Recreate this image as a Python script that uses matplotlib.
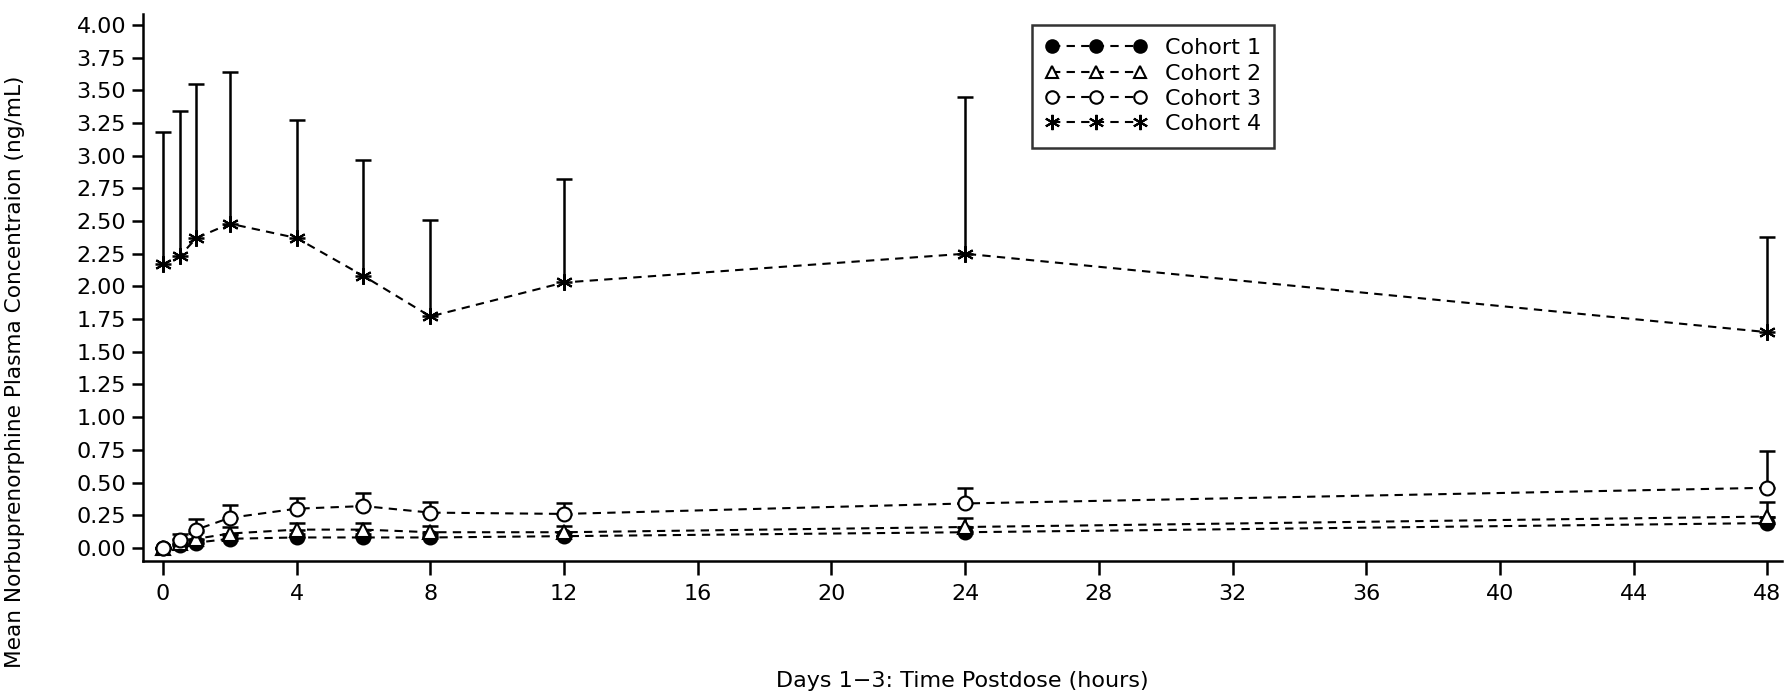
import matplotlib
matplotlib.use("Agg")
from matplotlib import pyplot as plt
from matplotlib.lines import Line2D

# sampling times (hours)
hours = [0, 0.5, 1, 2, 4, 6, 8, 12, 24, 48]

# mean concentrations (ng/mL) per cohort
cohort1 = [0.00, 0.02, 0.04, 0.07, 0.08, 0.08, 0.08, 0.09, 0.12, 0.19]
cohort2 = [0.00, 0.04, 0.07, 0.11, 0.14, 0.14, 0.12, 0.12, 0.16, 0.24]
cohort3 = [0.00, 0.06, 0.14, 0.23, 0.30, 0.32, 0.27, 0.26, 0.34, 0.46]
cohort4 = [2.17, 2.23, 2.37, 2.48, 2.37, 2.08, 1.77, 2.03, 2.25, 1.65]

# upper SD bars
sd1 = [0.00, 0.01, 0.02, 0.03, 0.03, 0.03, 0.03, 0.03, 0.04, 0.05]
sd2 = [0.00, 0.03, 0.05, 0.05, 0.05, 0.05, 0.05, 0.05, 0.07, 0.11]
sd3 = [0.00, 0.05, 0.08, 0.10, 0.08, 0.10, 0.08, 0.08, 0.12, 0.28]
sd4 = [1.01, 1.11, 1.18, 1.16, 0.90, 0.89, 0.74, 0.79, 1.20, 0.73]

labels = ["Cohort 1", "Cohort 2", "Cohort 3", "Cohort 4"]
xticks = list(range(0, 49, 4))
yticks = [i * 0.25 for i in range(17)]

plt.rcParams['font.family'] = ['DejaVu Sans']

fig = plt.figure(figsize=(17.86, 6.95), dpi=100)
ax = fig.add_axes([0.080, 0.193, 0.918, 0.787])

styles = [
    dict(marker='o', mfc='black', ms=10),
    dict(marker='^', mfc='white', ms=10),
    dict(marker='o', mfc='white', ms=10),
    dict(marker=(6, 2, 0), mfc='black', ms=12),
]
series = [(cohort1, sd1), (cohort2, sd2), (cohort3, sd3), (cohort4, sd4)]

handles = []
for (vals, sd), st, lab in zip(series, styles, labels):
    ax.errorbar(hours, vals, yerr=[[0] * len(sd), sd], fmt='none',
                ecolor='black', elinewidth=1.8, capsize=6, capthick=1.8, zorder=2)
    ax.plot(hours, vals, color='black', linestyle=(0, (4, 3)), linewidth=1.5,
            marker=st['marker'], markersize=st['ms'], markerfacecolor=st['mfc'],
            markeredgecolor='black', markeredgewidth=1.5, zorder=3)
    handles.append(Line2D([], [], color='black', linestyle=(0, (4, 3)), linewidth=1.5,
                          marker=st['marker'], markersize=st['ms'] - 1,
                          markerfacecolor=st['mfc'], markeredgecolor='black',
                          markeredgewidth=1.5, label=lab))

ax.set_xlim(-0.6, 48.45)
ax.set_ylim(-0.099, 4.084)
ax.set_xticks(xticks)
ax.set_yticks(yticks)
ax.set_yticklabels([f"{v:.2f}" for v in yticks])

for s in ['top', 'right']:
    ax.spines[s].set_visible(False)
for s in ['left', 'bottom']:
    ax.spines[s].set_linewidth(1.8)
ax.tick_params(axis='both', direction='out', length=10, width=1.8, labelsize=16)
ax.tick_params(axis='x', pad=7)
ax.tick_params(axis='y', length=8, pad=4)

ax.set_xlabel("Days 1\u22123: Time Postdose (hours)", fontsize=16, labelpad=48)
ax.set_ylabel("Mean Norbuprenorphine Plasma Concentraion (ng/mL)", fontsize=15.6)
ax.yaxis.set_label_coords(-0.072, 0.345)

leg = ax.legend(handles=handles, loc='upper left', bbox_to_anchor=(0.542, 0.98),
                numpoints=3, handlelength=4.6, fontsize=16, frameon=True, fancybox=False,
                edgecolor='black', borderpad=0.6, labelspacing=0.24, handletextpad=0.8,
                borderaxespad=0)
leg.get_frame().set_linewidth(1.8)

fig.savefig("out.png", dpi=100)
